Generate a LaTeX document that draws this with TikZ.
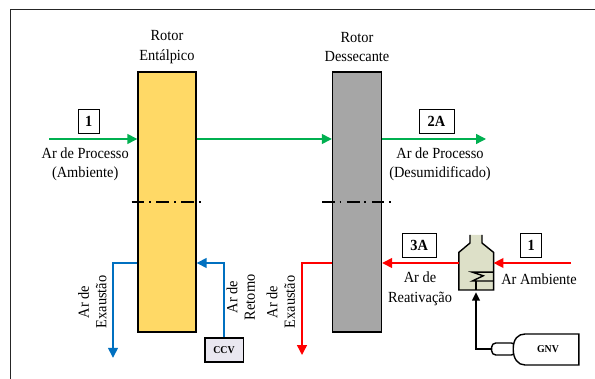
\documentclass[tikz,border=0pt]{standalone}
\usepackage{fontspec}
\setmainfont[FakeStretch=0.93]{Liberation Serif}
\usetikzlibrary{arrows.meta}
\definecolor{rotoryellow}{HTML}{FFD966}
\definecolor{rotorgray}{HTML}{A6A6A6}
\definecolor{airgreen}{HTML}{00B050}
\definecolor{airblue}{HTML}{0070C0}
\definecolor{burnerfill}{HTML}{DDE0C8}
\definecolor{ccvfill}{HTML}{E9E7F0}
\tikzset{
  rotorbox/.style={draw, line width=1pt, minimum width=#1, minimum height=6.5cm, inner sep=0pt},
  tagbox/.style={draw, line width=0.5pt, minimum height=0.6cm, inner sep=0pt, font=\fontsize{11}{12}\selectfont\bfseries},
  lab/.style={align=center, inner sep=0pt, font=\fontsize{11}{14}\selectfont},
  sidelab/.style={align=center, inner sep=0pt, rotate=90, font=\fontsize{11}{12.5}\selectfont},
  smalllab/.style={inner sep=0pt, font=\fontsize{7.5}{8}\selectfont\bfseries},
  flow/.style={line width=1pt, -{Triangle[length=7pt,width=7pt]}},
  axisline/.style={line width=1pt, dash pattern=on 9pt off 3.5pt on 1.2pt off 4pt}
}
\begin{document}
\begin{tikzpicture}[x=1cm,y=1cm]
  \useasboundingbox (0,0) rectangle (14.875,9.475);
  % Frame
  \draw[line width=0.8pt, black!85] (0.27,-0.1) -- (0.27,9.24) -- (15,9.24);

  % Rotors
  \node[rotorbox=1.45cm, fill=rotoryellow] (rotorE) at (4.175,4.425) {};
  \node[rotorbox=1.225cm, fill=rotorgray] (rotorD) at (8.925,4.425) {};
  \node[lab] at (4.175,8.3) {Rotor\\Entálpico};
  \node[lab] at (8.925,8.3) {Rotor\\Dessecante};

  % Process air
  \coordinate (procIn) at (1.225,6.0);
  \coordinate (procOut) at (12.15,6.0);
  \draw[flow, airgreen] (procIn) -- (procIn -| rotorE.west);
  \draw[flow, airgreen] (procIn -| rotorE.east) -- (procIn -| rotorD.west);
  \draw[flow, airgreen] (procIn -| rotorD.east) -- (procOut);
  \node[tagbox, minimum width=0.525cm] (tagA) at (2.22,6.45) {1};
  \node[tagbox, minimum width=0.875cm] (tagB) at (10.91,6.45) {2A};
  \node[lab] at (2.13,5.37) {Ar de Processo\\(Ambiente)};
  \node[lab] at (11.0,5.37) {Ar de Processo\\(Desumidificado)};

  % Axis lines
  \draw[axisline] (3.29,4.42) -- (5.1,4.42);
  \draw[axisline] (8.05,4.42) -- (9.88,4.42);

  % Enthalpy rotor exhaust and return
  \coordinate (exE) at (2.825,0.53);
  \node[draw, line width=1pt, fill=ccvfill, minimum width=0.96cm, minimum height=0.6cm, inner sep=0pt, font=\fontsize{7.5}{8}\selectfont\bfseries] (ccv) at (5.6,0.72) {CCV};
  \coordinate (lowE) at (0,2.9);
  \draw[flow, airblue] (lowE -| rotorE.west) -| (exE);
  \draw[flow, airblue] (ccv.north) |- (lowE -| rotorE.east);
  \node[sidelab] at (2.31,1.925) {Ar de\\Exaustão};
  \node[sidelab] at (6.02,2.05) {Ar de\\Retorno};

  % Burner
  \draw[line width=1pt, fill=burnerfill] (11.75,3.6) -- (11.75,3.4) -- (11.47,3.165) -- (11.47,2.225)
    -- (12.34,2.225) -- (12.34,3.165) -- (12.05,3.4) -- (12.05,3.6);

  % Reactivation air
  \coordinate (ambIn) at (14.275,2.9);
  \coordinate (exD) at (7.55,0.6);
  \coordinate (burnerW) at (11.47,2.9);
  \coordinate (burnerE) at (12.34,2.9);
  \draw[flow, red] (ambIn) -- (burnerE);
  \draw[flow, red] (burnerW) -- (lowE -| rotorD.east);
  \draw[flow, red] (lowE -| rotorD.west) -| (exD);
  \node[tagbox, minimum width=0.86cm] (tagC) at (10.48,3.34) {3A};
  \node[tagbox, minimum width=0.525cm] (tagD) at (13.28,3.34) {1};
  \node[lab] at (10.5,2.26) {Ar de\\Reativação};
  \node[lab] at (13.475,2.5) {Ar Ambiente};
  \node[sidelab] at (7.02,1.925) {Ar de\\Exaustão};

  % Coil
  \draw[line width=1pt] (12.34,2.67) -- (11.81,2.67) -- (12.08,2.58) -- (11.81,2.45) -- (12.34,2.45);
  \draw[line width=1pt] (11.9,2.45) -- (11.9,2.225);

  % GNV tank
  \node[draw, line width=1pt, fill=white, rounded corners=3pt, minimum width=0.6cm, minimum height=0.3cm, inner sep=0pt] (neck) at (12.59,0.75) {};
  \draw[line width=1pt, fill=white] (14.47,0.35) -- (13.125,0.35) .. controls (12.95,0.35) and (12.83,0.5) .. (12.83,0.75)
    .. controls (12.83,1.0) and (12.95,1.125) .. (13.125,1.125) -- (14.47,1.125) -- cycle;
  \node[smalllab] (gnv) at (13.7,0.75) {GNV};
  \coordinate (burnerS) at (11.9,2.17);
  \draw[line width=1pt, -{Triangle[length=6pt,width=5.5pt]}] (neck.west) -| (burnerS);
\end{tikzpicture}
\end{document}
